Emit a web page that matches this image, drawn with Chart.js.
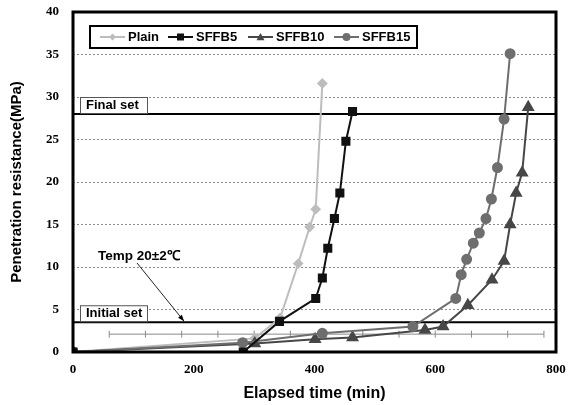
<!DOCTYPE html>
<html>
<head>
<meta charset="utf-8">
<script src="https://cdn.jsdelivr.net/npm/chart.js@4.4.0/dist/chart.umd.min.js"></script>
<style>
html, body { margin: 0; padding: 0; background: #fff; }
#wrap { width: 568px; height: 405px; }
</style>
</head>
<body>
<div id="wrap"><canvas id="myChart" width="568" height="405"></canvas></div>
<script>
// 経過時間 (min) と貫入抵抗 (MPa)
var plainX = [0, 301, 343, 373, 392, 402, 413];
var plainY = [0, 1.6, 4.0, 10.4, 14.7, 16.8, 31.6];

var sffb5X = [0, 282, 342, 402, 413, 422, 433, 442, 452, 463];
var sffb5Y = [0, 0, 3.6, 6.3, 8.7, 12.2, 15.7, 18.7, 24.8, 28.3];

var sffb10X = [0, 301, 401, 463, 583, 613, 654, 694, 714, 724, 734, 744, 754];
var sffb10Y = [0, 1.0, 1.5, 1.7, 2.6, 3.0, 5.5, 8.5, 10.7, 15.0, 18.7, 21.1, 28.8];

var sffb15X = [0, 281, 413, 563, 634, 643, 652, 663, 673, 684, 693, 703, 714, 724];
var sffb15Y = [0, 1.1, 2.2, 3.0, 6.3, 9.1, 10.9, 12.8, 14.0, 15.7, 18.0, 21.7, 27.4, 35.1];

var seriesNames = ["Plain", "SFFB5", "SFFB10", "SFFB15"];

// 温度ライン (20±2℃)
var tempX = [60, 120, 180, 240, 300, 360, 420, 480, 540, 600, 660, 720, 780];
var tempY = 2.1;

// 凝結の基準線
var initialSet = 3.5;
var finalSet = 28;
var setLineX = [0, 800];

function pts(xs, ys) {
    return xs.map(function (x, i) {
        return { x: x, y: Array.isArray(ys) ? ys[i] : ys };
    });
}

var colPlain = "#bdbdbd";
var col5 = "#111111";
var col10 = "#474747";
var col15 = "#6e6e6e";

var sansBold = "bold 13px 'Liberation Sans', Arial, sans-serif";

function drawMarker(c, style, x, y, r, color) {
    c.save();
    c.fillStyle = color;
    c.beginPath();
    if (style === "rect") {
        c.rect(x - r, y - r, 2 * r, 2 * r);
    } else if (style === "rectRot") {
        c.moveTo(x, y - r); c.lineTo(x + r, y); c.lineTo(x, y + r); c.lineTo(x - r, y);
        c.closePath();
    } else if (style === "triangle") {
        c.moveTo(x, y - r); c.lineTo(x + r, y + r * 0.8); c.lineTo(x - r, y + r * 0.8);
        c.closePath();
    } else {
        c.arc(x, y, r, 0, Math.PI * 2);
    }
    c.fill();
    c.restore();
}

var decorPlugin = {
    id: "decor",
    afterDatasetsDraw: function (chart) {
        var c = chart.ctx;
        var a = chart.chartArea;
        var xs = chart.scales.x, ys = chart.scales.y;
        c.save();

        // 枠
        c.strokeStyle = "#000";
        c.lineWidth = 3;
        c.strokeRect(a.left, a.top, a.right - a.left, a.bottom - a.top);

        // ラベル (Final set / Initial set)
        function setLabel(text, val) {
            var yb = ys.getPixelForValue(val);
            c.fillStyle = "#fff";
            c.fillRect(a.left + 7, yb - 16, 67, 15);
            c.strokeStyle = "#555";
            c.lineWidth = 1;
            c.strokeRect(a.left + 7.5, yb - 16.5, 67, 16);
            c.fillStyle = "#000";
            c.font = sansBold;
            c.textBaseline = "middle";
            c.textAlign = "left";
            c.fillText(text, a.left + 13, yb - 8.5);
        }
        setLabel("Final set", finalSet);
        setLabel("Initial set", initialSet);

        // 温度の注記と矢印
        c.font = "bold 13.5px 'Liberation Sans', Arial, sans-serif";
        c.fillStyle = "#000";
        c.textAlign = "left";
        c.textBaseline = "middle";
        c.fillText("Temp 20\u00b12\u2103", 98, 256);
        var ax0 = 137, ay0 = 263;
        var ax1 = xs.getPixelForValue(184), ay1 = ys.getPixelForValue(initialSet) - 1;
        c.strokeStyle = "#222";
        c.lineWidth = 1;
        c.beginPath(); c.moveTo(ax0, ay0); c.lineTo(ax1, ay1); c.stroke();
        var ang = Math.atan2(ay1 - ay0, ax1 - ax0);
        c.beginPath();
        c.moveTo(ax1, ay1);
        c.lineTo(ax1 - 7 * Math.cos(ang - 0.35), ay1 - 7 * Math.sin(ang - 0.35));
        c.lineTo(ax1 - 7 * Math.cos(ang + 0.35), ay1 - 7 * Math.sin(ang + 0.35));
        c.closePath();
        c.fillStyle = "#000";
        c.fill();

        // 凡例
        var lx = a.left + 17, ly = a.top + 14, lw = 327, lh = 22;
        c.fillStyle = "#fff";
        c.fillRect(lx, ly, lw, lh);
        c.strokeStyle = "#000";
        c.lineWidth = 2;
        c.strokeRect(lx, ly, lw, lh);
        var items = [
            { name: seriesNames[0], color: colPlain, style: "rectRot", r: 3.5, x0: 100 },
            { name: seriesNames[1], color: col5, style: "rect", r: 3.5, x0: 168 },
            { name: seriesNames[2], color: col10, style: "triangle", r: 4, x0: 248 },
            { name: seriesNames[3], color: col15, style: "circle", r: 4, x0: 334 }
        ];
        var cy = ly + lh / 2;
        items.forEach(function (it) {
            c.strokeStyle = it.color;
            c.lineWidth = 2;
            c.beginPath(); c.moveTo(it.x0, cy); c.lineTo(it.x0 + 25, cy); c.stroke();
            drawMarker(c, it.style, it.x0 + 12.5, cy, it.r, it.color);
            c.fillStyle = "#000";
            c.font = sansBold;
            c.textAlign = "left";
            c.textBaseline = "middle";
            c.fillText(it.name, it.x0 + 28, cy);
        });
        c.restore();
    }
};

var ctx = document.getElementById("myChart");
var myChart = new Chart(ctx, {
    type: "scatter",
    data: {
        datasets: [
            {
                label: "Final set",
                data: pts(setLineX, finalSet),
                showLine: true, borderColor: "#000", borderWidth: 2, pointRadius: 0, order: 9
            },
            {
                label: "Initial set",
                data: pts(setLineX, initialSet),
                showLine: true, borderColor: "#000", borderWidth: 2, pointRadius: 0, order: 9
            },
            {
                label: "Temp",
                data: pts(tempX, tempY),
                showLine: true, borderColor: "#8a8a8a", borderWidth: 1,
                pointStyle: "line", pointRotation: 90, pointRadius: 3.5,
                pointBorderColor: "#8a8a8a", pointBorderWidth: 1, order: 8
            },
            {
                label: seriesNames[0],
                data: pts(plainX, plainY),
                showLine: true, borderColor: colPlain, borderWidth: 2,
                pointStyle: "rectRot", pointRadius: 4, pointBackgroundColor: colPlain,
                pointBorderColor: colPlain, order: 4
            },
            {
                label: seriesNames[1],
                data: pts(sffb5X, sffb5Y),
                showLine: true, borderColor: col5, borderWidth: 2,
                pointStyle: "rect", pointRadius: 5, pointBackgroundColor: col5,
                pointBorderColor: col5, order: 1
            },
            {
                label: seriesNames[2],
                data: pts(sffb10X, sffb10Y),
                showLine: true, borderColor: col10, borderWidth: 2,
                pointStyle: "triangle", pointRadius: 5.5, pointBackgroundColor: col10,
                pointBorderColor: col10, order: 3
            },
            {
                label: seriesNames[3],
                data: pts(sffb15X, sffb15Y),
                showLine: true, borderColor: col15, borderWidth: 2,
                pointStyle: "circle", pointRadius: 4.5, pointBackgroundColor: col15,
                pointBorderColor: col15, order: 2
            }
        ]
    },
    options: {
        responsive: false,
        animation: false,
        layout: { autoPadding: false, padding: { top: 12, right: 12, left: 0, bottom: 0 } },
        plugins: {
            legend: { display: false },
            tooltip: { enabled: false }
        },
        scales: {
            x: {
                type: "linear",
                min: 0, max: 800,
                ticks: {
                    stepSize: 200, color: "#000", padding: 10,
                    font: { family: "'Liberation Serif', 'Times New Roman', serif", weight: "bold", size: 13 }
                },
                grid: { display: false, drawTicks: false },
                border: { display: false },
                title: {
                    display: true, text: "Elapsed time (min)", color: "#000",
                    font: { family: "'Liberation Sans', Arial, sans-serif", weight: "bold", size: 16 },
                    padding: { top: 0, bottom: 2 }
                },
                afterFit: function (s) {
                    s.height = 53;
                    s.paddingLeft = 0;
                    s.paddingRight = 0;
                }
            },
            y: {
                min: 0, max: 40,
                ticks: {
                    stepSize: 5, color: "#000", padding: 14,
                    font: { family: "'Liberation Serif', 'Times New Roman', serif", weight: "bold", size: 13 }
                },
                grid: {
                    drawTicks: false, lineWidth: 1,
                    color: function (c) {
                        return (c.tick && c.tick.value > 0 && c.tick.value < 40) ? "#8c8c8c" : "rgba(0,0,0,0)";
                    }
                },
                border: { display: false, dash: [2, 2] },
                title: {
                    display: true, text: "Penetration resistance(MPa)", color: "#000",
                    font: { family: "'Liberation Sans', Arial, sans-serif", weight: "bold", size: 15 },
                    padding: { top: 8, bottom: 4 }
                },
                afterFit: function (s) {
                    s.width = 73;
                    s.paddingTop = 0;
                    s.paddingBottom = 0;
                }
            }
        }
    },
    plugins: [decorPlugin]
});
</script>
</body>
</html>
